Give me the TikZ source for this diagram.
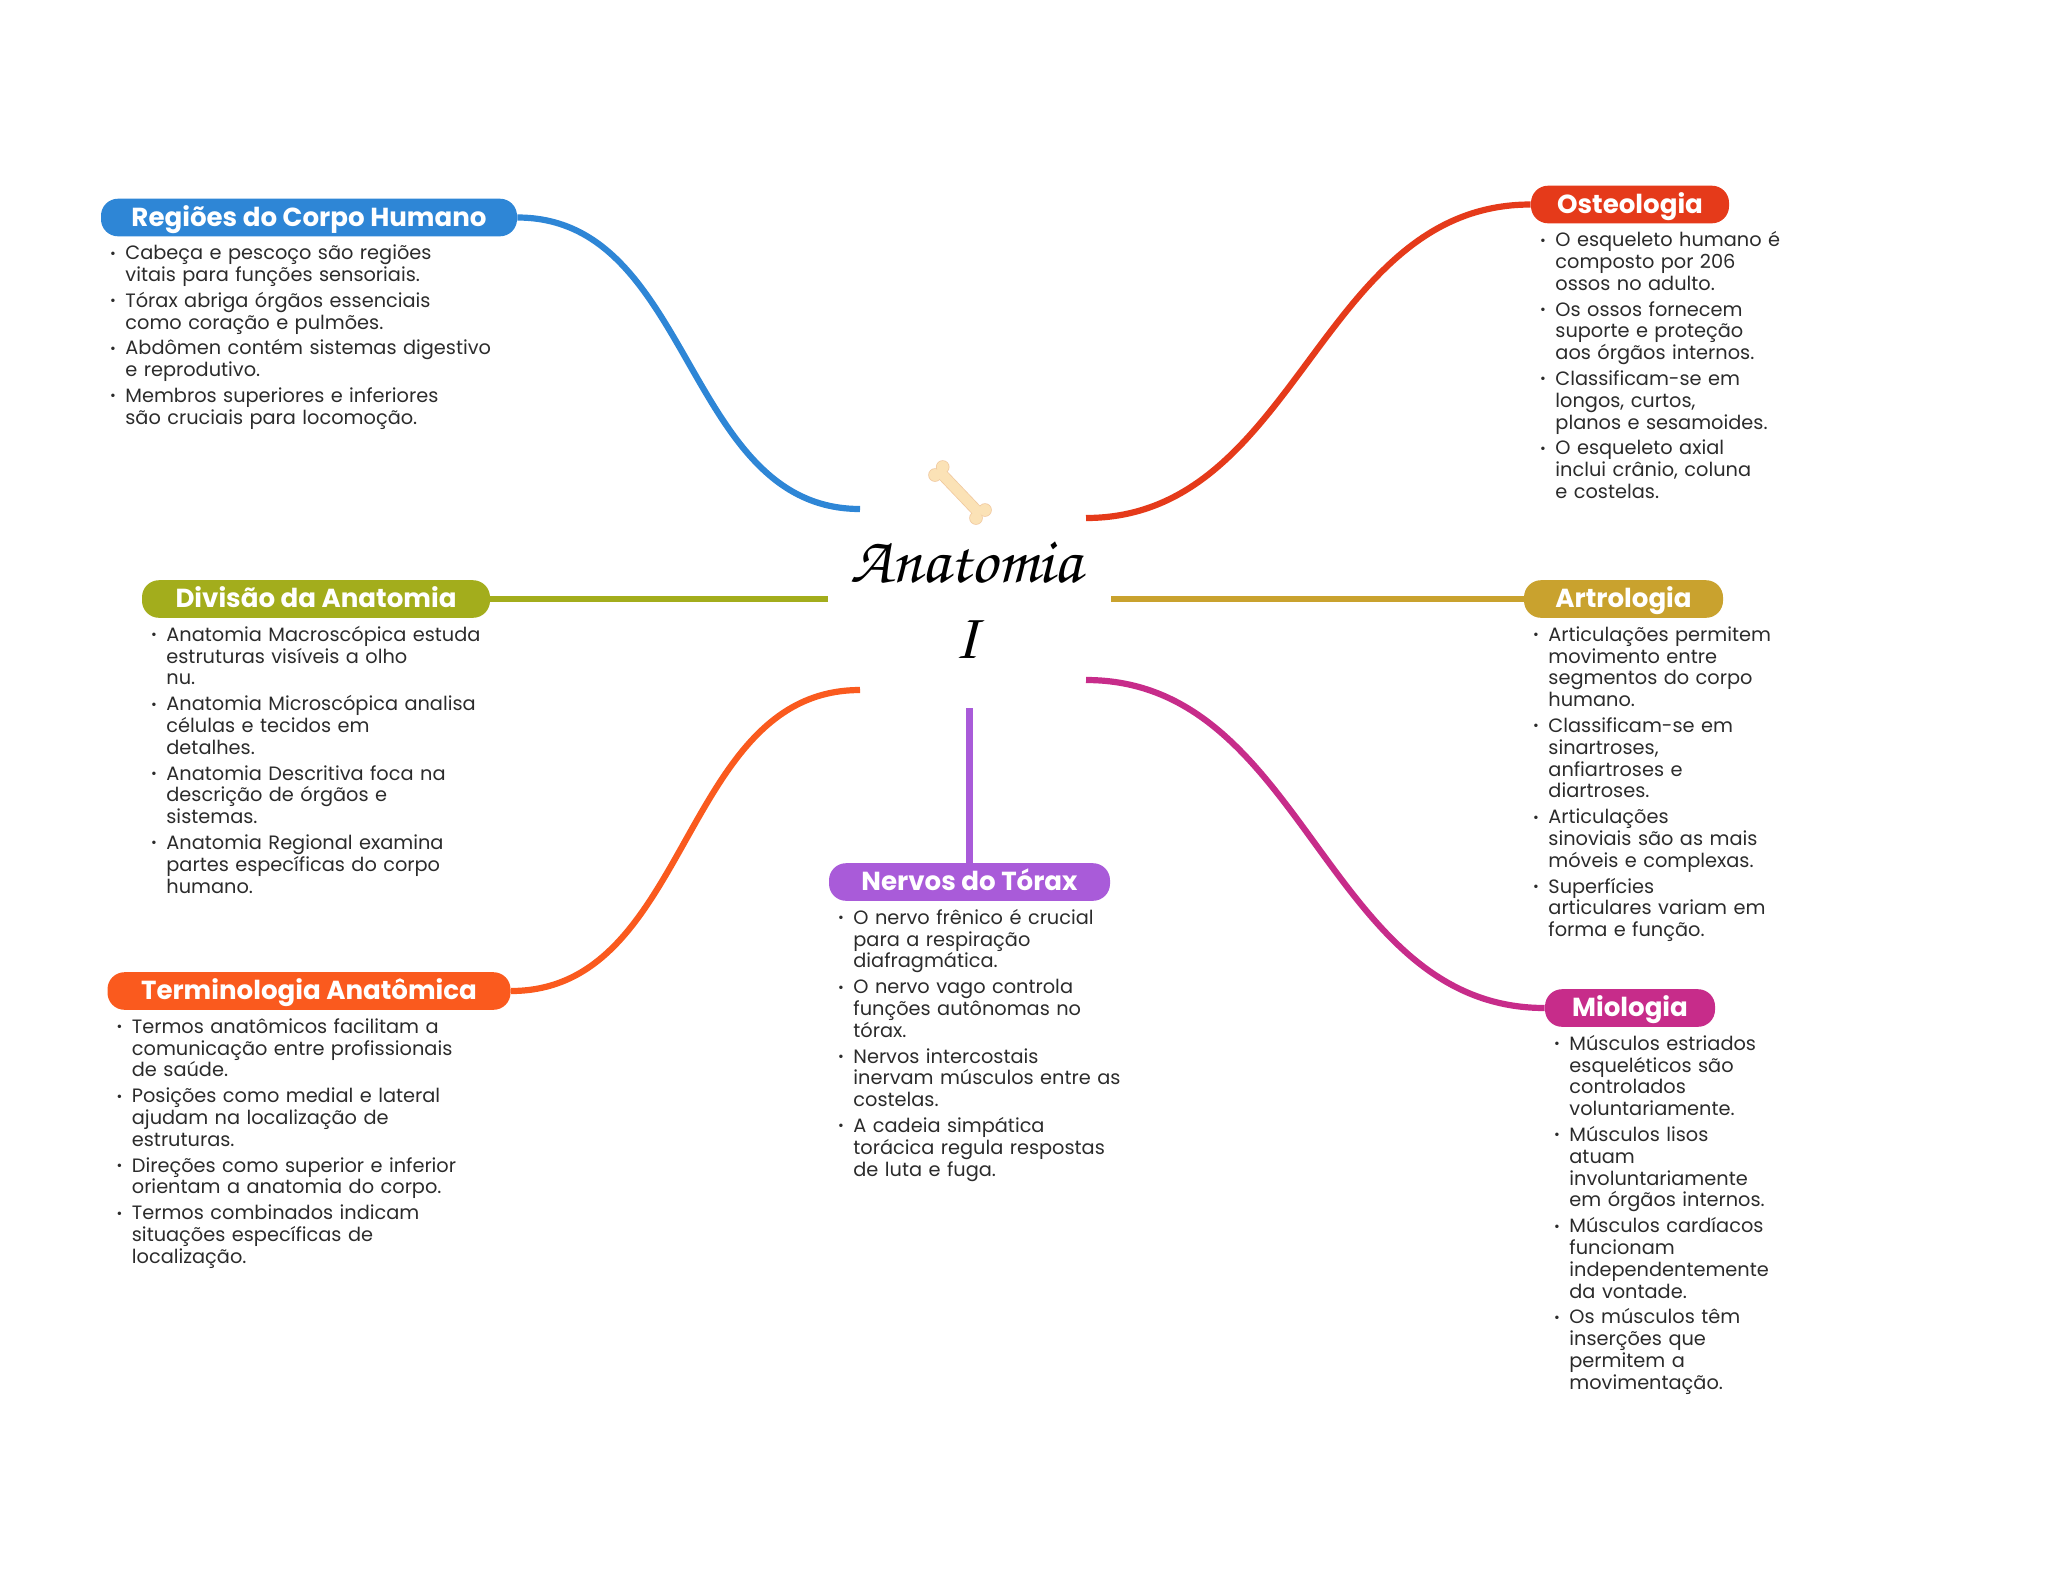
\documentclass[tikz,border=0pt]{standalone}
\usepackage{fontspec}
\setmainfont{Poppins}
\usetikzlibrary{positioning}

\definecolor{azul}{HTML}{2E86D6}
\definecolor{oliva}{HTML}{A3AD1C}
\definecolor{laranja}{HTML}{FA5A1E}
\definecolor{roxo}{HTML}{A95BD9}
\definecolor{vermelho}{HTML}{E53A1A}
\definecolor{ouro}{HTML}{C9A22E}
\definecolor{magenta2}{HTML}{C72C8A}
\definecolor{texto}{HTML}{2B2B2B}
\definecolor{ossoclaro}{HTML}{FBE2B6}
\definecolor{ossoborda}{HTML}{F0C9A0}

\newcommand{\topico}[1]{{\par\leftskip=7pt\noindent\llap{\makebox[7.6pt][l]{\raisebox{0.8pt}{\scriptsize\textbullet}}}#1\par}}

\begin{document}
\begin{tikzpicture}[
x=0.5pt, y=-0.5pt,
pilula/.style={rectangle, rounded corners=8.5pt, minimum height=18.8pt, inner sep=0pt, text height=11.4pt, text depth=2.5pt, text=white, font=\fontsize{13.05}{15}\selectfont\bfseries},
lista/.style={rectangle, inner sep=0pt, text width=200pt, align=left, text=texto, font=\fontsize{9.67}{10.9}\selectfont\setlength{\parskip}{2pt}, xshift=5.2pt, yshift=1.6pt},
ramo/.style={line width=3.1pt},
titulo/.style={inner sep=0pt, align=center, font=\usefont{T1}{pzc}{mb}{it}\fontsize{33}{38}\selectfont}
]
\useasboundingbox (0,0) rectangle (2048,1569);

% Nivel 1
\node[titulo] (anatomia) at (966,600) {Anatomia \\ I};

\foreach \cor/\raio/\largura in {ossoborda/3.4pt/5.8pt, ossoclaro/3pt/5pt} {
  \draw[line width=\largura, \cor] (939,471) -- (980,514);
  \foreach \a/\b in {942.7/467, 935/475, 985/510, 976/518}
    \fill[\cor] (\a,\b) circle (\raio);
}

% Pontos de saida
\coordinate (saida_regioes) at (860,509);
\coordinate (saida_divisao) at (828,599);
\coordinate (saida_termos) at (860,690);
\coordinate (saida_nervos) at (969.5,708);
\coordinate (saida_osteo) at (1086,518);
\coordinate (saida_artro) at (1111,599);
\coordinate (saida_mio) at (1086,680);

% Nivel 2 - Ramos
\node[pilula, fill=azul, minimum width=208pt] (regioes) at (309,217.5) {Regiões do Corpo Humano};
\node[pilula, fill=oliva, minimum width=174pt] (divisao) at (316,599) {Divisão da Anatomia};
\node[pilula, fill=laranja, minimum width=201.5pt] (termos) at (309,991) {Terminologia Anatômica};
\node[pilula, fill=roxo, minimum width=140.5pt] (nervos) at (969.5,882) {Nervos do Tórax};
\node[pilula, fill=vermelho, minimum width=99pt] (osteo) at (1630,204.5) {Osteologia};
\node[pilula, fill=ouro, minimum width=99.5pt] (artro) at (1623.5,599) {Artrologia};
\node[pilula, fill=magenta2, minimum width=85pt] (mio) at (1630,1008) {Miologia};

% Nivel 3 - Topicos
\node[lista, below=0pt of regioes.south west, anchor=north west] (lista_regioes) {
\topico{Cabeça e pescoço são regiões \\ vitais para funções sensoriais.}
\topico{Tórax abriga órgãos essenciais \\ como coração e pulmões.}
\topico{Abdômen contém sistemas digestivo \\ e reprodutivo.}
\topico{Membros superiores e inferiores \\ são cruciais para locomoção.}
};

\node[lista, below=0pt of divisao.south west, anchor=north west] (lista_divisao) {
\topico{Anatomia Macroscópica estuda \\ estruturas visíveis a olho \\ nu.}
\topico{Anatomia Microscópica analisa \\ células e tecidos em \\ detalhes.}
\topico{Anatomia Descritiva foca na \\ descrição de órgãos e \\ sistemas.}
\topico{Anatomia Regional examina \\ partes específicas do corpo \\ humano.}
};

\node[lista, below=0pt of termos.south west, anchor=north west] (lista_termos) {
\topico{Termos anatômicos facilitam a \\ comunicação entre profissionais \\ de saúde.}
\topico{Posições como medial e lateral \\ ajudam na localização de \\ estruturas.}
\topico{Direções como superior e inferior \\ orientam a anatomia do corpo.}
\topico{Termos combinados indicam \\ situações específicas de \\ localização.}
};

\node[lista, below=0pt of nervos.south west, anchor=north west] (lista_nervos) {
\topico{O nervo frênico é crucial \\ para a respiração \\ diafragmática.}
\topico{O nervo vago controla \\ funções autônomas no \\ tórax.}
\topico{Nervos intercostais \\ inervam músculos entre as \\ costelas.}
\topico{A cadeia simpática \\ torácica regula respostas \\ de luta e fuga.}
};

\node[lista, below=0pt of osteo.south west, anchor=north west] (lista_osteo) {
\topico{O esqueleto humano é \\ composto por 206 \\ ossos no adulto.}
\topico{Os ossos fornecem \\ suporte e proteção \\ aos órgãos internos.}
\topico{Classificam-se em \\ longos, curtos, \\ planos e sesamoides.}
\topico{O esqueleto axial \\ inclui crânio, coluna \\ e costelas.}
};

\node[lista, below=0pt of artro.south west, anchor=north west] (lista_artro) {
\topico{Articulações permitem \\ movimento entre \\ segmentos do corpo \\ humano.}
\topico{Classificam-se em \\ sinartroses, \\ anfiartroses e \\ diartroses.}
\topico{Articulações \\ sinoviais são as mais \\ móveis e complexas.}
\topico{Superfícies \\ articulares variam em \\ forma e função.}
};

\node[lista, below=0pt of mio.south west, anchor=north west] (lista_mio) {
\topico{Músculos estriados \\ esqueléticos são \\ controlados \\ voluntariamente.}
\topico{Músculos lisos \\ atuam \\ involuntariamente \\ em órgãos internos.}
\topico{Músculos cardíacos \\ funcionam \\ independentemente \\ da vontade.}
\topico{Os músculos têm \\ inserções que \\ permitem a \\ movimentação.}
};

% Ligacoes
\draw[ramo, azul] (saida_regioes) to[out=180, in=0] (regioes);
\draw[ramo, oliva] (saida_divisao) -- (divisao);
\draw[ramo, laranja] (saida_termos) to[out=180, in=0] (termos);
\draw[ramo, roxo] (saida_nervos) -- (nervos);
\draw[ramo, vermelho] (saida_osteo) to[out=0, in=180] (osteo);
\draw[ramo, ouro] (saida_artro) -- (artro);
\draw[ramo, magenta2] (saida_mio) to[out=0, in=180] (mio);

\end{tikzpicture}
\end{document}
